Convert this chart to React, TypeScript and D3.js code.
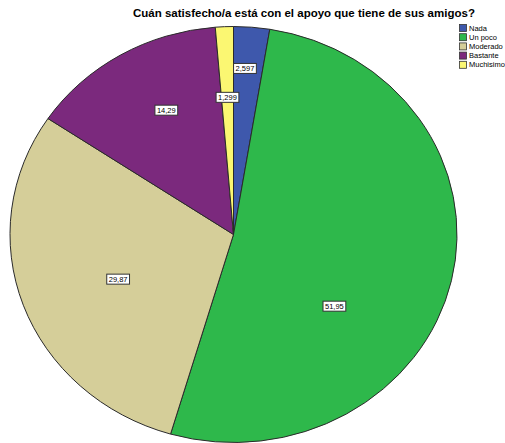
import React, { useEffect, useRef } from "react";
import * as d3 from "d3";

const title = "Cuán satisfecho/a está con el apoyo que tiene de sus amigos?";
const categories = ["Nada", "Un poco", "Moderado", "Bastante", "Muchisimo"];
const percents = [2.597, 51.95, 29.87, 14.29, 1.299];
const valueLabels = ["2,597", "51,95", "29,87", "14,29", "1,299"];
const colors = ["#3E58AC", "#2EB84B", "#D5CE99", "#7B297D", "#FBF772"];

// label placement (fraction of radius, angular nudge in degrees)
const labelRadius = [0.8, 0.568, 0.559, 0.669, 0.66];
const labelNudge = [-1, 24.5, -2.7, 3.7, 0];

const W = 505;
const H = 443;

export default function App() {
  const ref = useRef<SVGSVGElement>(null);

  useEffect(() => {
    const svg = d3.select(ref.current);
    svg.selectAll("*").remove();

    const cx = 233.5;
    const cy = 234.5;
    const rx = 223.5;
    const ry = 208;
    const R = 100;

    const data = categories.map((c, i) => ({ c, v: percents[i], i }));
    const pie = d3.pie<any>().value((d) => d.v).sort(null);
    const arcs = pie(data);
    const arc = d3.arc<any>().innerRadius(0).outerRadius(R);

    const g = svg
      .append("g")
      .attr("transform", `translate(${cx},${cy}) scale(${rx / R},${ry / R})`);

    g.selectAll("path")
      .data(arcs)
      .enter()
      .append("path")
      .attr("d", arc as any)
      .attr("fill", (d: any) => colors[d.data.i])
      .attr("stroke", "#2a2a2a")
      .attr("stroke-width", 1)
      .attr("vector-effect", "non-scaling-stroke");

    // labels
    const lg = svg.append("g");
    arcs.forEach((a: any) => {
      const i = a.data.i;
      const mid = (a.startAngle + a.endAngle) / 2 + (labelNudge[i] * Math.PI) / 180;
      const f = labelRadius[i];
      const x = cx + rx * f * Math.sin(mid);
      const y = cy - ry * f * Math.cos(mid);
      const grp = lg.append("g");
      const rect = grp.append("rect");
      const t = grp
        .append("text")
        .attr("x", x)
        .attr("y", y)
        .attr("text-anchor", "middle")
        .attr("dominant-baseline", "central")
        .attr("font-family", "'Liberation Sans', Arial, sans-serif")
        .attr("font-size", 7.5)
        .attr("fill", "#000")
        .text(valueLabels[i]);
      const tw = (t.node() as SVGTextElement).getComputedTextLength();
      const bw = tw + 4;
      const bh = 10;
      rect
        .attr("x", x - bw / 2)
        .attr("y", y - bh / 2)
        .attr("width", bw)
        .attr("height", bh)
        .attr("fill", "#fff")
        .attr("stroke", "#333")
        .attr("stroke-width", 1);
    });

    // title
    svg
      .append("text")
      .attr("x", 133)
      .attr("y", 17)
      .attr("font-family", "'Liberation Sans', Arial, sans-serif")
      .attr("font-weight", "bold")
      .attr("font-size", 11.5)
      .attr("fill", "#000")
      .text(title);

    // legend
    const leg = svg.append("g").attr("transform", "translate(459,24)");
    categories.forEach((c, i) => {
      const row = leg.append("g").attr("transform", `translate(0,${i * 9.2})`);
      row
        .append("rect")
        .attr("x", 0.5)
        .attr("y", 0.5)
        .attr("width", 7)
        .attr("height", 7)
        .attr("fill", colors[i])
        .attr("stroke", "#333")
        .attr("stroke-width", 0.8);
      row
        .append("text")
        .attr("x", 10)
        .attr("y", 4)
        .attr("dominant-baseline", "central")
        .attr("font-family", "'Liberation Sans', Arial, sans-serif")
        .attr("font-size", 7.5)
        .attr("fill", "#000")
        .text(c);
    });
  }, []);

  return (
    <svg
      ref={ref}
      width={W}
      height={H}
      style={{ position: "absolute", left: 0, top: 0, background: "#fff" }}
    />
  );
}
